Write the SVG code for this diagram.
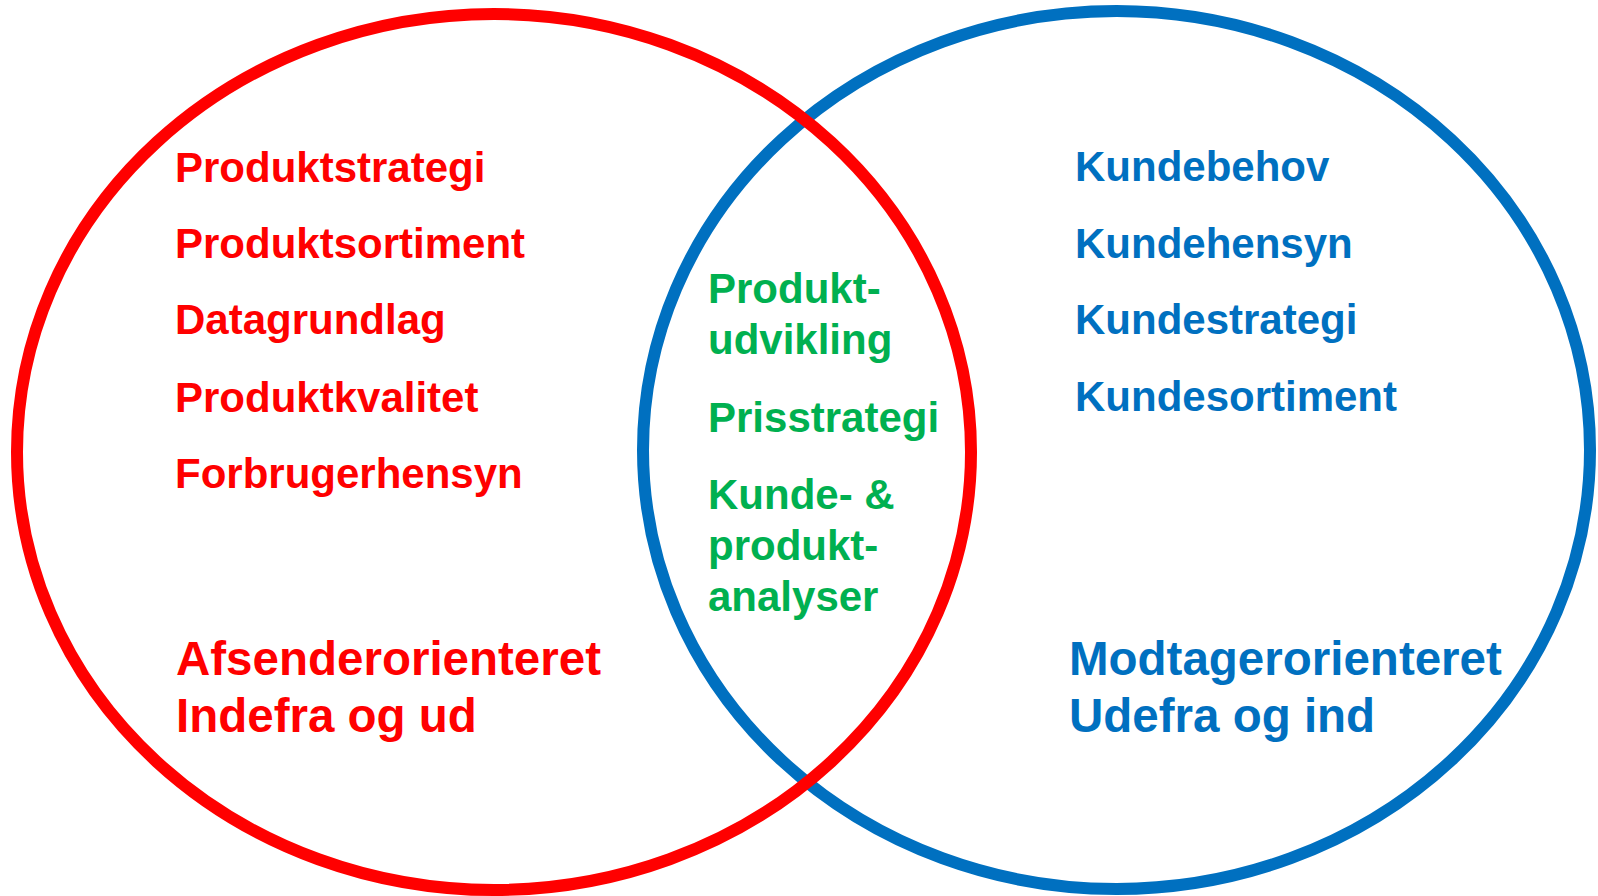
<svg xmlns="http://www.w3.org/2000/svg" width="1598" height="896" viewBox="0 0 1598 896">
  <style>
    .ring { fill: none; stroke-width: 12; }
    .lbl { font-family: "Liberation Sans", Arial, sans-serif; font-weight: bold; font-size: 42px; }
    .big { font-size: 47.5px; }
    .red { fill: #FF0000; }
    .blue { fill: #0070C0; }
    .green { fill: #00B050; }
  </style>
  <rect width="1598" height="896" fill="#FFFFFF"/>

  <!-- Receiver-oriented set (drawn first so the red ring crosses over it) -->
  <g id="set-modtager">
    <ellipse class="ring" cx="1116.5" cy="450" rx="473.5" ry="439" stroke="#0070C0"/>
    <text class="lbl blue" x="1075" y="181">Kundebehov</text>
    <text class="lbl blue" x="1075" y="257.7">Kundehensyn</text>
    <text class="lbl blue" x="1075" y="334">Kundestrategi</text>
    <text class="lbl blue" x="1075" y="411">Kundesortiment</text>
    <text class="lbl big blue" x="1069" y="675">Modtagerorienteret</text>
    <text class="lbl big blue" x="1069" y="732">Udefra og ind</text>
  </g>

  <!-- Sender-oriented set -->
  <g id="set-afsender">
    <ellipse class="ring" cx="494" cy="452" rx="477" ry="438" stroke="#FF0000"/>
    <text class="lbl red" x="175" y="181.7">Produktstrategi</text>
    <text class="lbl red" x="175" y="257.7">Produktsortiment</text>
    <text class="lbl red" x="175" y="334">Datagrundlag</text>
    <text class="lbl red" x="175" y="411.7">Produktkvalitet</text>
    <text class="lbl red" x="175" y="488">Forbrugerhensyn</text>
    <text class="lbl big red" x="176" y="675">Afsenderorienteret</text>
    <text class="lbl big red" x="176" y="732">Indefra og ud</text>
  </g>

  <!-- Overlap: shared activities -->
  <g id="overlap">
    <text class="lbl green" x="708" y="303.3">Produkt-</text>
    <text class="lbl green" x="708" y="354">udvikling</text>
    <text class="lbl green" x="708" y="431.7">Prisstrategi</text>
    <text class="lbl green" x="708" y="509">Kunde- &amp;</text>
    <text class="lbl green" x="708" y="559.5">produkt-</text>
    <text class="lbl green" x="708" y="610.5">analyser</text>
  </g>

  <g id="connectors"/>
</svg>
